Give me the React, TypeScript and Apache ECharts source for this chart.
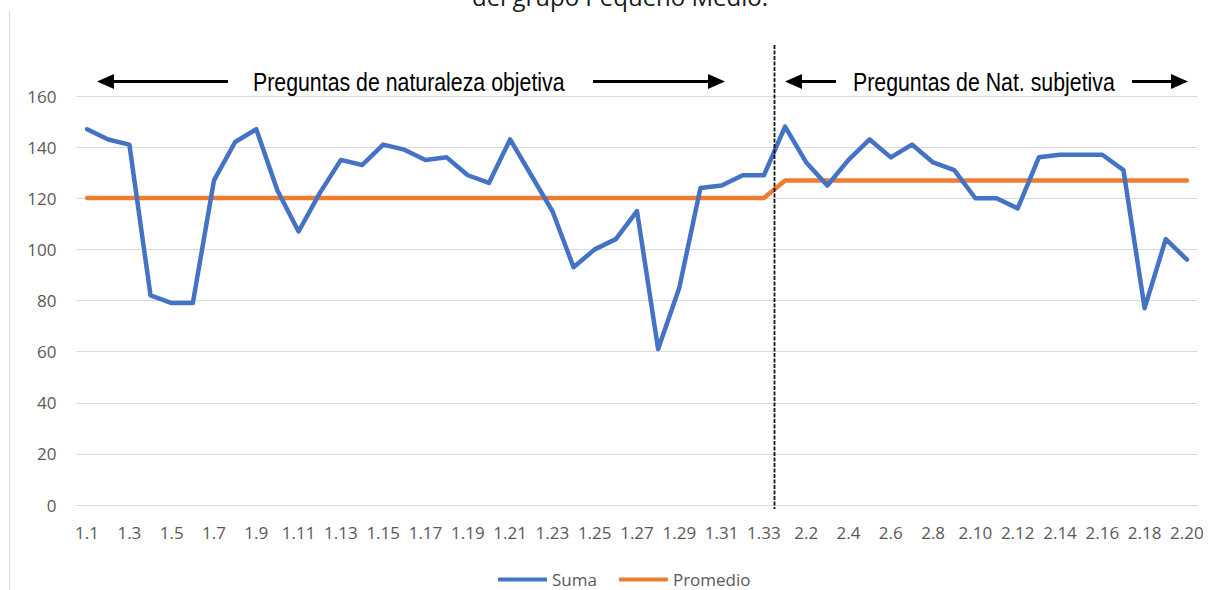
import React, { useEffect, useRef } from "react";
import * as echarts from "echarts";

const categories = [
  "1.1", "1.2", "1.3", "1.4", "1.5", "1.6", "1.7", "1.8", "1.9", "1.10",
  "1.11", "1.12", "1.13", "1.14", "1.15", "1.16", "1.17", "1.18", "1.19", "1.20",
  "1.21", "1.22", "1.23", "1.24", "1.25", "1.26", "1.27", "1.28", "1.29", "1.30",
  "1.31", "1.32", "1.33",
  "2.1", "2.2", "2.3", "2.4", "2.5", "2.6", "2.7", "2.8", "2.9", "2.10",
  "2.11", "2.12", "2.13", "2.14", "2.15", "2.16", "2.17", "2.18", "2.19", "2.20",
];

const suma = [
  147, 143, 141, 82, 79, 79, 127, 142, 147, 123,
  107, 122, 135, 133, 141, 139, 135, 136, 129, 126,
  143, 129, 115, 93, 100, 104, 115, 61, 85, 124,
  125, 129, 129,
  148, 134, 125, 135, 143, 136, 141, 134, 131, 120,
  120, 116, 136, 137, 137, 137, 131, 77, 104, 96,
];

const promedio = [
  120.1, 120.1, 120.1, 120.1, 120.1, 120.1, 120.1, 120.1, 120.1, 120.1,
  120.1, 120.1, 120.1, 120.1, 120.1, 120.1, 120.1, 120.1, 120.1, 120.1,
  120.1, 120.1, 120.1, 120.1, 120.1, 120.1, 120.1, 120.1, 120.1, 120.1,
  120.1, 120.1, 120.1,
  126.9, 126.9, 126.9, 126.9, 126.9, 126.9, 126.9, 126.9, 126.9, 126.9,
  126.9, 126.9, 126.9, 126.9, 126.9, 126.9, 126.9, 126.9, 126.9, 126.9,
];

const title = "del grupo Pequeño Medio.";
const labelObjetiva = "Preguntas de naturaleza objetiva";
const labelSubjetiva = "Preguntas de Nat. subjetiva";
const lastObjetivaIndex = 32;

const AXIS_FONT = "'Open Sans', 'Noto Sans', sans-serif";
const NOTE_FONT = "'Liberation Sans', Arial, sans-serif";

function arrow(x1: number, x2: number, y: number, pointLeft: boolean) {
  const head = 17;
  const half = 7.5;
  const tip = pointLeft ? x1 : x2;
  const base = pointLeft ? x1 + head : x2 - head;
  return [
    {
      type: "line",
      shape: pointLeft ? { x1: base - 2, y1: y, x2: x2, y2: y } : { x1: x1, y1: y, x2: base + 2, y2: y },
      style: { stroke: "#000", lineWidth: 3 },
      silent: true,
    },
    {
      type: "polygon",
      shape: { points: [[tip, y], [base, y - half], [base, y + half]] },
      style: { fill: "#000" },
      silent: true,
    },
  ];
}

function note(text: string, x: number, y: number) {
  return {
    type: "text",
    x,
    y,
    scaleX: 0.82,
    style: {
      text,
      fill: "#000",
      font: `26px ${NOTE_FONT}`,
      textAlign: "left",
      textVerticalAlign: "middle",
    },
    silent: true,
  };
}

export default function App() {
  const ref = useRef<HTMLDivElement>(null);

  useEffect(() => {
    if (!ref.current) return;
    const chart = echarts.init(ref.current, undefined, { renderer: "svg" });
    const option: any = {
      animation: false,
      backgroundColor: "#ffffff",
      grid: { left: 76.5, right: 18.5, top: 96, bottom: 85, containLabel: false },
      legend: {
        left: 493,
        top: 566,
        itemWidth: 49,
        itemHeight: 4,
        itemGap: 22,
        icon: "roundRect",
        textStyle: { color: "#595959", fontSize: 17, fontFamily: AXIS_FONT },
        data: ["Suma", "Promedio"],
      },
      xAxis: {
        type: "category",
        data: categories,
        boundaryGap: true,
        axisLine: { show: true, lineStyle: { color: "#d9d9d9", width: 1 } },
        axisTick: { show: false },
        axisLabel: {
          interval: 1,
          color: "#595959",
          fontSize: 17,
          fontFamily: AXIS_FONT,
          margin: 19,
        },
        splitLine: { show: false },
      },
      yAxis: {
        type: "value",
        min: 0,
        max: 160,
        interval: 20,
        axisLine: { show: false },
        axisTick: { show: false },
        axisLabel: { color: "#595959", fontSize: 17, fontFamily: AXIS_FONT, margin: 20 },
        splitLine: { lineStyle: { color: "#d9d9d9", width: 1 } },
      },
      series: [
        {
          name: "Suma",
          type: "line",
          data: suma,
          showSymbol: false,
          symbol: "none",
          itemStyle: { color: "#4472C4" },
          lineStyle: { color: "#4472C4", width: 4.5, cap: "round", join: "round" },
          z: 3,
        },
        {
          name: "Promedio",
          type: "line",
          data: promedio,
          showSymbol: false,
          symbol: "none",
          itemStyle: { color: "#ED7D31" },
          lineStyle: { color: "#ED7D31", width: 4.5, cap: "round", join: "round" },
          z: 2,
        },
      ],
    };
    chart.setOption(option);

    const xa = chart.convertToPixel({ xAxisIndex: 0 }, lastObjetivaIndex) as number;
    const xb = chart.convertToPixel({ xAxisIndex: 0 }, lastObjetivaIndex + 1) as number;
    const divX = Math.round((xa + xb) / 2) + 0.5;
    const y0 = chart.convertToPixel({ yAxisIndex: 0 }, 0) as number;
    const arrowY = 81.5;

    const graphics: any[] = [
      {
        type: "line",
        shape: { x1: 9.5, y1: 11, x2: 9.5, y2: 590 },
        style: { stroke: "#d9d9d9", lineWidth: 1 },
        silent: true,
      },
      {
        type: "text",
        x: 620,
        y: -3.5,
        style: {
          text: title,
          fill: "#1a1a1a",
          font: `24px ${AXIS_FONT}`,
          textAlign: "center",
          textVerticalAlign: "middle",
        },
        silent: true,
      },
      {
        type: "line",
        shape: { x1: divX, y1: 45, x2: divX, y2: y0 + 4 },
        style: { stroke: "#111", lineWidth: 1.8, lineDash: [4, 1.5] },
        z: 10,
        silent: true,
      },
      ...arrow(97, 228, arrowY, true),
      ...arrow(593, 725, arrowY, false),
      ...arrow(785, 836, arrowY, true),
      ...arrow(1132, 1188, arrowY, false),
      note(labelObjetiva, 253, arrowY),
      note(labelSubjetiva, 853, arrowY),
    ];
    chart.setOption({ graphic: graphics });

    return () => chart.dispose();
  }, []);

  return (
    <div
      ref={ref}
      style={{ position: "absolute", left: 0, top: 0, width: 1216, height: 590, background: "#fff" }}
    />
  );
}
